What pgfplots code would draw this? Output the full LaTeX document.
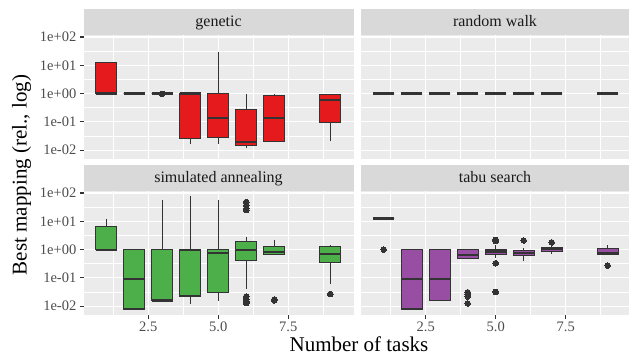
\documentclass[border=0pt]{standalone}
\usepackage{fontspec}
\setmainfont{Liberation Serif}
\usepackage{pgfplots}
\pgfplotsset{compat=1.18}
\usepgfplotslibrary{statistics}
\definecolor{g92}{HTML}{EBEBEB}
\definecolor{g85}{HTML}{D9D9D9}
\definecolor{g20}{HTML}{333333}
\definecolor{g30}{HTML}{4D4D4D}
\definecolor{g10}{HTML}{1A1A1A}
\definecolor{cred}{HTML}{E41A1C}
\definecolor{cblue}{HTML}{377EB8}
\definecolor{cgreen}{HTML}{4DAF4A}
\definecolor{cpurple}{HTML}{984EA3}
% values on the y axis are log10 of the best mapping (rel.)
\pgfplotsset{
 /pgfplots/mypanel/.style={
   scale only axis, height=124pt, ymin=-2.31, ymax=2.07, xmin=0.19,
   axis background/.style={fill=g92},
   axis line style={draw=none},
   ytick={-2,-1,0,1,2},
   minor ytick={-1.5,-0.5,0.5,1.5},
   xtick={2.5,5,7.5}, minor xtick={1.25,3.75,6.25,8.75},
   grid=both,
   major grid style={white, line width=1.07pt},
   minor grid style={white, line width=0.53pt},
   tick align=outside, major tick length=3.7pt, minor tick length=0pt,
   tick style={g20, line width=1.07pt},
   xtick pos=left, ytick pos=left,
   xticklabels={2.5,5.0,7.5},
   yticklabels={1e-02,1e-01,1e+00,1e+01,1e+02},
   tick label style={font=\fontsize{14.5}{16}\selectfont, text=g30},
   every axis title/.style={at={(0.5,1)}, anchor=south, fill=g85, inner sep=0pt,
     minimum height=26pt, text height=11pt, text depth=1pt, text=g10,
     font=\fontsize{16}{18}\selectfont},
   boxplot/draw direction=y,
   boxplot/every median/.style={line width=2.2pt},
 },
 /pgfplots/myleft/.style={at={(83.5pt,#1)}, anchor=south west, width=270pt, xmax=9.83, title style={minimum width=270pt}},
 /pgfplots/myright/.style={at={(361pt,#1)}, anchor=south west, width=268pt, xmax=9.76, title style={minimum width=268pt}, yticklabels={}, ytick style={draw=none}},
 /pgfplots/mytop/.style={xticklabels={}, xtick style={draw=none}},
}
% box: color, pos, lower whisker, lower quartile, median, upper quartile, upper whisker, outliers
\newcommand{\bx}[8]{\addplot[draw=g20, line width=1.1pt, fill=#1, mark=*, mark size=2.8pt,
  mark options={fill=g20, draw=g20, line width=0pt},
  boxplot prepared={draw direction=y, draw position=#2, lower whisker=#3, lower quartile=#4, median=#5,
  upper quartile=#6, upper whisker=#7, box extend=0.75, whisker extend=0,
  every median/.style={line width=2.2pt}}] coordinates {#8};}
\begin{document}
\begin{tikzpicture}
\path[use as bounding box] (0,0) rectangle (629pt,356pt);
% genetic
\begin{axis}[mypanel, myleft=197pt, mytop, title={genetic}]
\bx{cred}{1}{0}{0}{0}{1.097}{1.097}{}
\bx{cred}{2}{0}{0}{0}{0}{0}{}
\bx{cred}{3}{0}{0}{0}{0}{0}{(3,-0.01)}
\bx{cred}{4}{-1.796}{-1.585}{0}{0}{0}{}
\bx{cred}{5}{-1.770}{-1.553}{-0.854}{0}{1.477}{}
\bx{cred}{6}{-1.921}{-1.824}{-1.699}{-0.553}{0}{}
\bx{cred}{7}{-1.699}{-1.678}{-0.854}{-0.071}{0}{}
\bx{cred}{9}{-1.678}{-1.027}{-0.215}{-0.036}{0}{}
\end{axis}
% random walk
\begin{axis}[mypanel, myright=197pt, mytop, title={random walk}]
\bx{cblue}{1}{0}{0}{0}{0}{0}{}
\bx{cblue}{2}{0}{0}{0}{0}{0}{}
\bx{cblue}{3}{0}{0}{0}{0}{0}{}
\bx{cblue}{4}{0}{0}{0}{0}{0}{}
\bx{cblue}{5}{0}{0}{0}{0}{0}{}
\bx{cblue}{6}{0}{0}{0}{0}{0}{}
\bx{cblue}{7}{0}{0}{0}{0}{0}{}
\bx{cblue}{9}{0}{0}{0}{0}{0}{}
\end{axis}
% simulated annealing
\begin{axis}[mypanel, myleft=41pt, title={simulated annealing}]
\bx{cgreen}{1}{0}{0}{0}{0.820}{1.090}{}
\bx{cgreen}{2}{-2.097}{-2.097}{-1.051}{0}{0}{}
\bx{cgreen}{3}{-1.796}{-1.796}{-1.796}{0}{1.763}{}
\bx{cgreen}{4}{-1.921}{-1.638}{0}{0}{1.903}{}
\bx{cgreen}{5}{-1.824}{-1.509}{-0.108}{0}{1.763}{}
\bx{cgreen}{6}{-1.387}{-0.387}{0}{0.301}{0.447}{(6,1.681) (6,1.556) (6,1.447) (6,1.398) (6,-1.658) (6,-1.745) (6,-1.824) (6,-1.886)}
\bx{cgreen}{7}{-0.180}{-0.180}{-0.086}{0.114}{0.322}{(7,-1.770) (7,-1.796)}
\bx{cgreen}{9}{-1.222}{-0.469}{-0.155}{0.114}{0.161}{(9,-1.569)}
\end{axis}
% tabu search
\begin{axis}[mypanel, myright=41pt, title={tabu search}]
\bx{cpurple}{1}{1.100}{1.100}{1.100}{1.100}{1.100}{(1,0)}
\bx{cpurple}{2}{-2.097}{-2.097}{-1.051}{0}{0}{}
\bx{cpurple}{3}{-1.796}{-1.796}{-1.051}{0}{0}{}
\bx{cpurple}{4}{-0.310}{-0.310}{-0.180}{-0.004}{-0.004}{(4,-1.509) (4,-1.585) (4,-1.658) (4,-1.903)}
\bx{cpurple}{5}{-0.292}{-0.187}{-0.071}{-0.013}{0.146}{(5,0.301) (5,0.342) (5,-0.481) (5,-1.495)}
\bx{cpurple}{6}{-0.409}{-0.201}{-0.114}{-0.027}{0.061}{(6,0.322)}
\bx{cpurple}{7}{-0.149}{-0.060}{0.009}{0.068}{0.114}{(7,0.255)}
\bx{cpurple}{9}{-0.180}{-0.180}{-0.108}{0.025}{0.146}{(9,-0.569)}
\end{axis}
\node[anchor=base, font=\fontsize{21}{24}\selectfont] at (359pt,5pt) {Number of tasks};
\node[rotate=90, anchor=base, font=\fontsize{21}{24}\selectfont] at (26.7pt,181pt) {Best mapping (rel., log)};
\end{tikzpicture}
\end{document}
